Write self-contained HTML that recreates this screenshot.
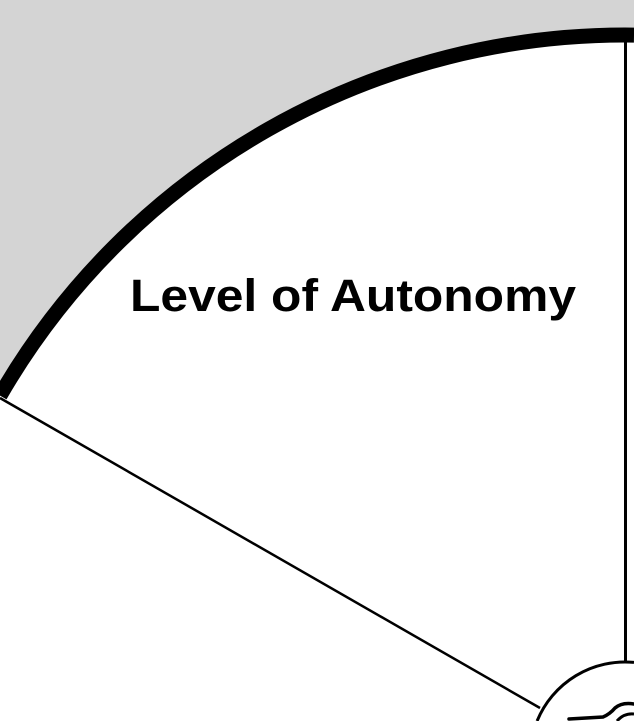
<!DOCTYPE html>
<html><head><meta charset="utf-8"><style>
html,body{margin:0;padding:0;background:#fff;width:634px;height:721px;overflow:hidden;}
svg{display:block;}
</style></head><body>
<svg width="634" height="721" viewBox="0 0 634 721">
  <defs><clipPath id="frame"><rect x="0" y="0" width="634" height="721"/></clipPath></defs>
  <g clip-path="url(#frame)">
  <rect x="0" y="0" width="634" height="721" fill="#d4d4d4"/>
  <path d="M0 395.6 A722 722 0 0 1 634 35.1 L634 721 L0 721 Z" fill="#fff"/>
  <path d="M0 395.6 A722 722 0 0 1 634 35.1" fill="none" stroke="#000" stroke-width="15"/>
  <line x1="0" y1="398" x2="540" y2="708" stroke="#000" stroke-width="2.5"/>
  <line x1="625.5" y1="42" x2="625.5" y2="662" stroke="#000" stroke-width="3"/>
  <path d="M537.1 721 A95 95 0 0 1 634 662.4 L634 721 Z" fill="#fff"/>
  <path d="M537.1 721 A95 95 0 0 1 634 662.4" fill="none" stroke="#000" stroke-width="3"/>
  <path d="M569 719 L603 717 Q610 714 615 708 Q622 702 634 704" fill="none" stroke="#000" stroke-width="3.5" stroke-linecap="round"/>
  <path d="M617 721 Q624 713 634 714" fill="none" stroke="#000" stroke-width="3"/>
  <text x="353" y="311" text-anchor="middle" font-family="'Liberation Sans', sans-serif" font-weight="bold" font-size="45" textLength="446" lengthAdjust="spacingAndGlyphs" fill="#000">Level of Autonomy</text>
  </g>
</svg>
</body></html>
